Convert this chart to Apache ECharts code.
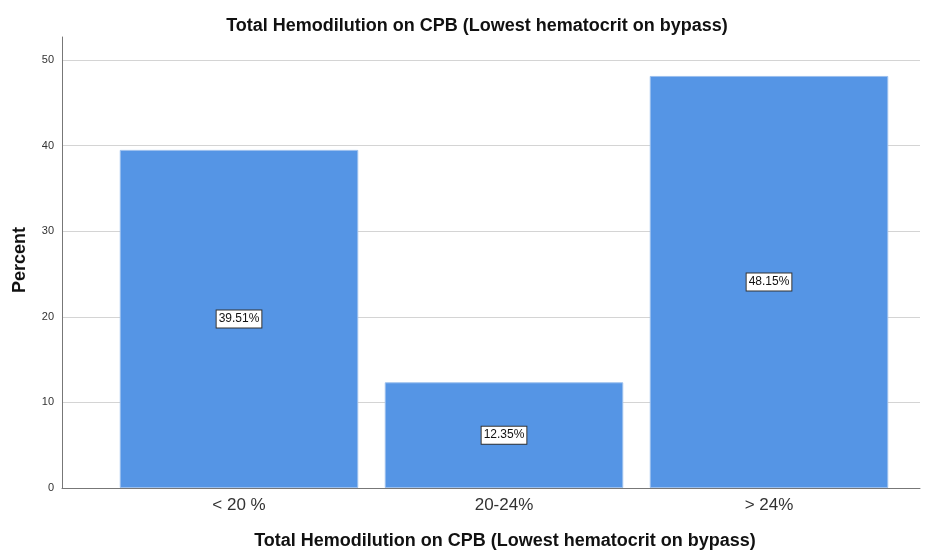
<!DOCTYPE html>
<html><head><meta charset="utf-8">
<script src="https://cdn.jsdelivr.net/npm/echarts@6/dist/echarts.min.js"></script>
<style>html,body{margin:0;padding:0;background:#fff}#c{width:935px;height:550px}</style>
</head><body><div id="c"></div>
<script>
const categories = ['< 20 %', '20-24%', '> 24%'];
const percentValues = [39.51, 12.35, 48.15];
const yTicks = [0, 10, 20, 30, 40, 50];

const FONT = '"Liberation Sans", Arial, sans-serif';
const chart = echarts.init(document.getElementById('c'));
const yMax = 52.7;
chart.setOption({
  animation: false,
  title: {
    text: 'Total Hemodilution on CPB (Lowest hematocrit on bypass)',
    left: 472, top: 12, textAlign: 'center',
    textStyle: {fontFamily: FONT, fontSize: 18, fontWeight: 'bold', color: '#111'}
  },
  grid: [
    {left: 62, right: 15, top: 37, bottom: 62, outerBoundsMode: 'none', containLabel: false},
    {left: 106.5, right: 33.5, top: 37, bottom: 62, outerBoundsMode: 'none', containLabel: false}
  ],
  xAxis: [
    {type: 'category', gridIndex: 0, data: [''], axisLine: {lineStyle: {color: '#777', width: 1}},
     axisTick: {show: false}, axisLabel: {show: false},
     name: 'Total Hemodilution on CPB (Lowest hematocrit on bypass)',
     nameLocation: 'middle', nameGap: 44,
     nameTextStyle: {fontFamily: FONT, fontSize: 18, fontWeight: 'bold', color: '#111', padding: [0, 0, 0, 28]}},
    {type: 'category', gridIndex: 1, data: categories, axisLine: {show: false}, axisTick: {show: false},
     axisLabel: {fontFamily: FONT, fontSize: 17, color: '#333', margin: 9}}
  ],
  yAxis: [
    {type: 'value', gridIndex: 0, min: 0, max: yMax, interval: 10,
     axisLine: {show: true, lineStyle: {color: '#777'}}, axisTick: {show: false},
     axisLabel: {fontFamily: FONT, fontSize: 11, color: '#333', margin: 8,
       formatter: v => yTicks.includes(v) ? String(v) : ''},
     splitLine: {showMaxLine: false, lineStyle: {color: '#d4d4d4', width: 1}},
     name: 'Percent', nameLocation: 'middle', nameGap: 33, nameRotate: 90,
     nameTextStyle: {fontFamily: FONT, fontSize: 18, fontWeight: 'bold', color: '#111', padding: [0, 0, 0, 5]}},
    {type: 'value', gridIndex: 1, min: 0, max: yMax, interval: 10, show: false, splitLine: {show: false}}
  ],
  series: [{
    type: 'bar', xAxisIndex: 1, yAxisIndex: 1, data: percentValues,
    barCategoryGap: '10%',
    itemStyle: {color: '#5595e5', borderColor: '#9cc0ee', borderWidth: 1},
    label: {show: true, position: 'inside', formatter: p => p.value.toFixed(2) + '%',
      fontFamily: FONT, fontSize: 12, color: '#111', backgroundColor: '#fff',
      borderColor: '#333', borderWidth: 1, padding: [3, 2, 2, 2]}
  }]
});
</script></body></html>
